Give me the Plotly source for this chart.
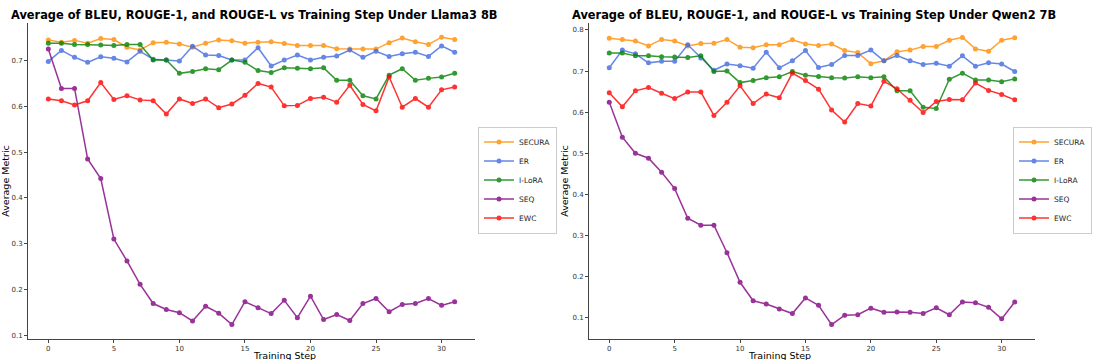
import plotly.graph_objects as go
from plotly.subplots import make_subplots

steps = list(range(32))
methods = ["SECURA", "ER", "I-LoRA", "SEQ", "EWC"]
colors = ["#FF8C00", "#4169E1", "#008000", "#800080", "#FF0000"]

# Llama3 8B
llama_secura = [0.745, 0.740, 0.744, 0.738, 0.748, 0.746, 0.729, 0.723, 0.739, 0.740,
                0.736, 0.729, 0.738, 0.745, 0.743, 0.738, 0.740, 0.741, 0.737, 0.733,
                0.733, 0.733, 0.726, 0.725, 0.725, 0.725, 0.739, 0.749, 0.741, 0.735,
                0.751, 0.746]
llama_er = [0.698, 0.722, 0.707, 0.696, 0.708, 0.705, 0.697, 0.720, 0.703, 0.701,
            0.699, 0.731, 0.712, 0.711, 0.701, 0.701, 0.728, 0.688, 0.701, 0.712,
            0.701, 0.707, 0.710, 0.723, 0.707, 0.720, 0.709, 0.715, 0.718, 0.709,
            0.732, 0.718]
llama_ilora = [0.738, 0.738, 0.735, 0.735, 0.734, 0.733, 0.735, 0.735, 0.701, 0.701,
               0.672, 0.676, 0.682, 0.680, 0.701, 0.696, 0.678, 0.674, 0.684, 0.683,
               0.682, 0.684, 0.657, 0.657, 0.623, 0.616, 0.668, 0.682, 0.657, 0.661,
               0.664, 0.672]
llama_seq = [0.725, 0.639, 0.639, 0.485, 0.442, 0.310, 0.262, 0.211, 0.169, 0.156,
             0.149, 0.131, 0.163, 0.148, 0.123, 0.173, 0.160, 0.147, 0.176, 0.138,
             0.185, 0.134, 0.145, 0.132, 0.169, 0.180, 0.151, 0.167, 0.169, 0.180,
             0.165, 0.173]
llama_ewc = [0.616, 0.612, 0.603, 0.612, 0.652, 0.615, 0.623, 0.614, 0.612, 0.583,
             0.616, 0.606, 0.616, 0.597, 0.605, 0.624, 0.650, 0.642, 0.601, 0.602,
             0.617, 0.620, 0.609, 0.646, 0.604, 0.590, 0.664, 0.598, 0.617, 0.598,
             0.636, 0.642]

# Qwen2 7B
qwen_secura = [0.780, 0.777, 0.773, 0.761, 0.777, 0.773, 0.761, 0.767, 0.768, 0.777,
               0.758, 0.757, 0.764, 0.764, 0.776, 0.766, 0.762, 0.766, 0.750, 0.745,
               0.718, 0.725, 0.747, 0.751, 0.760, 0.760, 0.775, 0.782, 0.754, 0.748,
               0.775, 0.781]
qwen_er = [0.708, 0.751, 0.742, 0.720, 0.724, 0.724, 0.764, 0.732, 0.702, 0.717,
           0.713, 0.707, 0.746, 0.708, 0.725, 0.750, 0.709, 0.716, 0.738, 0.738,
           0.751, 0.725, 0.738, 0.725, 0.716, 0.719, 0.712, 0.737, 0.712, 0.720,
           0.717, 0.699]
qwen_ilora = [0.744, 0.744, 0.737, 0.737, 0.735, 0.734, 0.733, 0.737, 0.699, 0.700,
              0.672, 0.677, 0.684, 0.686, 0.699, 0.690, 0.687, 0.684, 0.683, 0.686,
              0.684, 0.686, 0.652, 0.652, 0.612, 0.609, 0.680, 0.695, 0.678, 0.678,
              0.674, 0.681]
qwen_seq = [0.624, 0.539, 0.500, 0.488, 0.454, 0.414, 0.342, 0.325, 0.325, 0.258,
            0.186, 0.141, 0.133, 0.121, 0.110, 0.148, 0.130, 0.083, 0.106, 0.107,
            0.123, 0.113, 0.114, 0.113, 0.110, 0.124, 0.107, 0.138, 0.136, 0.125,
            0.097, 0.138]
qwen_ewc = [0.647, 0.613, 0.652, 0.660, 0.646, 0.633, 0.649, 0.649, 0.592, 0.624,
            0.664, 0.621, 0.644, 0.635, 0.695, 0.677, 0.656, 0.605, 0.576, 0.621,
            0.615, 0.675, 0.657, 0.629, 0.599, 0.626, 0.631, 0.630, 0.671, 0.653,
            0.643, 0.630]

llama = [llama_secura, llama_er, llama_ilora, llama_seq, llama_ewc]
qwen = [qwen_secura, qwen_er, qwen_ilora, qwen_seq, qwen_ewc]

FONT = "DejaVu Sans"
W, H = 1099, 360

fig = make_subplots(rows=1, cols=2)

for col, (series, leg) in enumerate([(llama, "legend"), (qwen, "legend2")], start=1):
    for name, vals, c in zip(methods, series, colors):
        fig.add_trace(go.Scatter(x=steps, y=vals, mode="lines+markers", name=name,
                                 line=dict(color=c, width=1.5),
                                 marker=dict(color=c, size=5),
                                 opacity=0.8, legend=leg), row=1, col=col)

axis_style = dict(showline=True, linecolor="#444", linewidth=1, ticks="outside",
                  ticklen=3, tickcolor="#444", showgrid=False, zeroline=False,
                  tickfont=dict(family=FONT, size=7, color="#333"), automargin=False)

ydom = [1 - 339 / H, 1 - 23 / H]
fig.update_xaxes(axis_style, range=[-1.55, 32.55], tickvals=[0, 5, 10, 15, 20, 25, 30])
fig.update_xaxes(domain=[28 / W, 475 / W], row=1, col=1)
fig.update_xaxes(domain=[589 / W, 1035 / W], row=1, col=2)
fig.update_yaxes(axis_style, domain=ydom,
                 title=dict(text="Average Metric", standoff=2,
                            font=dict(family=FONT, size=9.5, color="black")))
fig.update_yaxes(range=[0.0915, 0.782], tickvals=[0.1, 0.2, 0.3, 0.4, 0.5, 0.6, 0.7],
                 row=1, col=1)
fig.update_yaxes(range=[0.048, 0.817], tickvals=[0.1, 0.2, 0.3, 0.4, 0.5, 0.6, 0.7, 0.8],
                 row=1, col=2)

titles = ["Average of BLEU, ROUGE-1, and ROUGE-L vs Training Step Under Llama3 8B",
          "Average of BLEU, ROUGE-1, and ROUGE-L vs Training Step Under Qwen2 7B"]
title_x = [9 / W, 570 / W]
centers = [(28 + 475) / 2 / W, (589 + 1035) / 2 / W]
for t, tx, cx in zip(titles, title_x, centers):
    fig.add_annotation(text="<b>%s</b>" % t, x=tx, y=1 - 15 / H, xref="paper", yref="paper",
                       xanchor="left", yanchor="middle", showarrow=False,
                       font=dict(family=FONT, size=11.4, color="black"))
    fig.add_annotation(text="Training Step", x=cx, y=0, xref="paper", yref="paper",
                       yanchor="bottom", yshift=-2, showarrow=False, borderpad=0,
                       font=dict(family=FONT, size=9.5, color="black"))

leg_style = dict(font=dict(family=FONT, size=7.5, color="#222"), bgcolor="white",
                 bordercolor="#ccc", borderwidth=1, itemwidth=30, tracegroupgap=0,
                 yanchor="middle", y=1 - 180 / H, xanchor="left")
fig.update_layout(
    width=W, height=H, template="plotly_white",
    plot_bgcolor="white", paper_bgcolor="white",
    margin=dict(l=0, r=0, t=0, b=0),
    legend=dict(leg_style, x=478 / W),
    legend2=dict(leg_style, x=1013 / W),
)

# drop the default 8px body margin so the figure sits at the page corner
fig.write_html("out.html", config={"displayModeBar": False},
               post_script="document.body.style.margin='0';")
